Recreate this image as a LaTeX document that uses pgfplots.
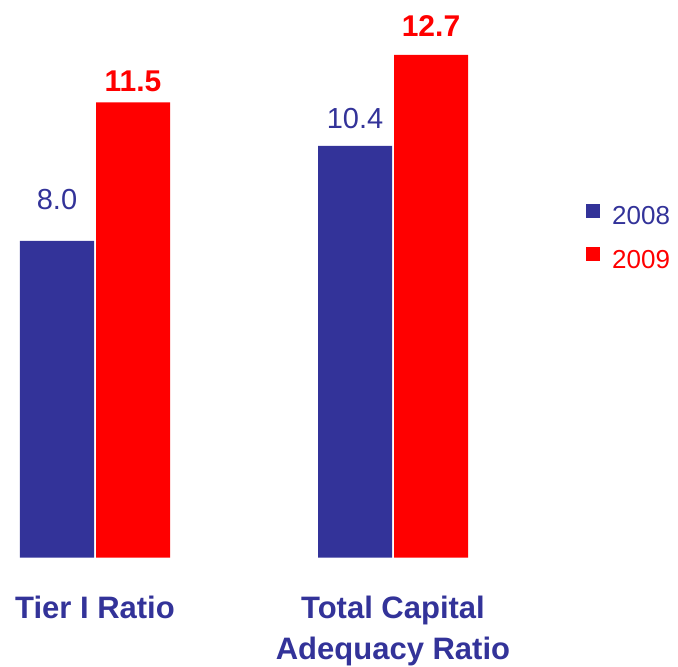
\documentclass[border=0pt]{standalone}
\usepackage{fontspec}
\setmainfont{Liberation Sans}
\usepackage{pgfplots}
\usepackage{pgfplotstable}
\pgfplotsset{compat=1.18}
\definecolor{cblue}{HTML}{333399}
\definecolor{cred}{HTML}{FF0000}

\pgfplotstableread{
x y dy
0 8.0 31
1 10.4 17
}\tblA
\pgfplotstableread{
x y dy
0 11.5 11
1 12.7 18
}\tblB

\begin{document}
\begin{tikzpicture}
\begin{axis}[
    at={(5.6bp,109.3bp)}, anchor=south west,
    scale only axis,
    width=670.5bp, height=554.4bp,
    xmin=-0.3, xmax=1.95,
    ymin=0, ymax=14,
    ybar=2bp,
    bar width=74bp,
    clip=false,
    axis line style={draw=none},
    major tick length=0pt,
    ytick=\empty,
    xtick={0,1},
    xticklabels={Tier I Ratio, {Total Capital\\Adequacy Ratio}},
    xticklabel style={anchor=north, inner sep=0pt, yshift=-38.3bp, align=center,
        font=\fontsize{31bp}{41bp}\selectfont\bfseries, text=cblue},
    /pgf/number format/assume math mode=true,
    /pgf/number format/.cd, fixed, fixed zerofill, precision=1, /pgfplots/.cd,
    legend style={draw=none, fill=none, inner sep=0pt,
        at={(axis description cs:0.8656,0.5785)}, anchor=west,
        row sep=21bp, column sep=12bp,
        font=\fontsize{26bp}{31bp}\selectfont,
        nodes={inner sep=0pt}},
    legend cell align=left,
    legend image code/.code={\fill[#1] (0bp,-1.7bp) rectangle (14bp,12.3bp);},
]
\addplot[fill=cblue, draw=none,
    visualization depends on={\thisrow{dy} \as \dy},
    nodes near coords,
    every node near coord/.append style={anchor=base, inner sep=0pt, yshift=\dy bp,
        text=cblue, font=\fontsize{29bp}{34bp}\selectfont}]
    table[x=x, y=y] {\tblA};
\addplot[fill=cred, draw=none,
    visualization depends on={\thisrow{dy} \as \dy},
    nodes near coords,
    every node near coord/.append style={anchor=base, inner sep=0pt, yshift=\dy bp,
        text=cred, font=\fontsize{30bp}{35bp}\selectfont\bfseries}]
    table[x=x, y=y] {\tblB};
\legend{\textcolor{cblue}{2008}, \textcolor{cred}{2009}}
\end{axis}
\pgfresetboundingbox
\path (0,0) rectangle (678bp,667bp);
\end{tikzpicture}
\end{document}
